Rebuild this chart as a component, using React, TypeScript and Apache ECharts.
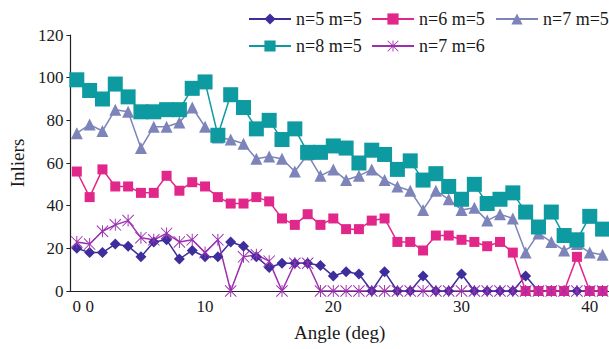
import React, { useEffect, useRef } from "react";
import * as echarts from "echarts";

const angleCategories = [
  "0", "0", "2", "3", "4", "5", "6", "7", "8", "9",
  "10", "11", "12", "13", "14", "15", "16", "17", "18", "19",
  "20", "21", "22", "23", "24", "25", "26", "27", "28", "29",
  "30", "31", "32", "33", "34", "35", "36", "37", "38", "39",
  "40", "41",
];
const shownLabelIndex = [0, 1, 10, 20, 30, 40];

const seriesNames = ["n=5 m=5", "n=6 m=5", "n=7 m=5", "n=8 m=5", "n=7 m=6"];

const n5m5 = [20, 18, 18, 22, 21, 16, 23, 24, 15, 19, 16, 16, 23, 21, 16, 11, 13, 13, 13, 12, 7, 9, 8, 0, 9, 0, 0, 7, 0, 0, 8, 0, 0, 0, 0, 7, 0, 0, 0, 0, 0, 0];
const n6m5 = [56, 44, 57, 49, 49, 46, 46, 54, 47, 51, 49, 44, 41, 41, 44, 42, 34, 31, 36, 31, 34, 29, 29, 33, 34, 23, 23, 19, 26, 26, 24, 23, 21, 23, 18, 0, 0, 0, 0, 16, 0, 0];
const n7m5 = [74, 78, 75, 85, 84, 67, 77, 77, 79, 86, 77, 72, 71, 69, 62, 63, 62, 56, 64, 54, 57, 52, 54, 57, 52, 49, 47, 38, 47, 43, 38, 39, 33, 36, 34, 18, 27, 23, 19, 22, 18, 17];
const n8m5 = [99, 94, 90, 97, 91, 84, 84, 85, 85, 95, 98, 73, 92, 86, 76, 80, 71, 76, 65, 65, 68, 67, 60, 66, 64, 57, 61, 52, 55, 49, 43, 50, 41, 43, 46, 37, 30, 37, 26, 24, 35, 29];
const n7m6 = [23, 22, 28, 31, 33, 25, 24, 27, 23, 24, 18, 24, 0, 16, 17, 14, 0, 13, 13, 0, 0, 0, 0, 0, 0, 0, 0, 0, 0, 0, 0, 0, 0, 0, 0, 0, 0, 0, 0, 0, 0, 0];

const FONT = "Liberation Serif";
const TEXT = "#1a1a1a";

const asteriskPath =
  "path://M9.2,0 L10.8,0 L10.8,20 L9.2,20 Z M0,1.1 L1.1,0 L20,18.9 L18.9,20 Z M18.9,0 L20,1.1 L1.1,20 L0,18.9 Z";

export default function App() {
  const ref = useRef<HTMLDivElement>(null);
  useEffect(() => {
    if (!ref.current) return;
    const chart = echarts.init(ref.current, undefined, { renderer: "svg" });
    const mk = (name: string, data: number[], color: string, symbol: string, size: number) => ({
      name,
      type: "line",
      data,
      symbol,
      symbolSize: size,
      showAllSymbol: true,
      lineStyle: { color, width: 1.5 },
      itemStyle: { color, borderWidth: 0 },
      emphasis: { disabled: true },
    });
    const legendPos = [
      { left: 248, top: 10 },
      { left: 371, top: 10 },
      { left: 495, top: 10 },
      { left: 248, top: 37 },
      { left: 371, top: 37 },
    ];
    const legends = seriesNames.map((nm, i) => ({
      ...legendPos[i],
      data: [nm],
      width: 200,
      itemWidth: 42,
      itemHeight: 14,
      padding: 0,
      selectedMode: false,
      textStyle: { fontSize: 18, fontFamily: FONT, color: TEXT },
    }));
    chart.setOption({
      animation: false,
      backgroundColor: "#ffffff",
      textStyle: { fontFamily: FONT },
      legend: legends,
      grid: { left: 66, top: 35, width: 546, bottom: 58, containLabel: false },
      xAxis: {
        type: "category",
        data: angleCategories,
        boundaryGap: true,
        name: "Angle (deg)",
        nameLocation: "middle",
        nameGap: 32,
        nameTextStyle: { fontSize: 19, fontFamily: FONT, color: TEXT },
        axisLine: { lineStyle: { color: "#222", width: 1.2 } },
        axisTick: {
          inside: true,
          length: 6,
          interval: (idx: number) => idx % 10 === 0,
          lineStyle: { color: "#222" },
        },
        axisLabel: {
          interval: (idx: number) => shownLabelIndex.includes(idx),
          fontSize: 17,
          fontFamily: FONT,
          color: TEXT,
          margin: 7,
        },
        splitLine: { show: false },
      },
      yAxis: {
        type: "value",
        min: 0,
        max: 120,
        interval: 20,
        name: "Inliers",
        nameLocation: "middle",
        nameGap: 33,
        nameTextStyle: { fontSize: 19, fontFamily: FONT, color: TEXT },
        axisLine: { show: true, lineStyle: { color: "#222", width: 1.2 } },
        axisTick: { show: true, inside: false, length: 4, lineStyle: { color: "#222" } },
        axisLabel: { fontSize: 17, fontFamily: FONT, color: TEXT, margin: 7 },
        splitLine: { show: false },
      },
      series: [
        mk(seriesNames[0], n5m5, "#3d2e9c", "diamond", 11),
        mk(seriesNames[1], n6m5, "#e2278b", "rect", 10),
        mk(seriesNames[2], n7m5, "#7d84b9", "triangle", 12),
        mk(seriesNames[3], n8m5, "#0d9aa0", "rect", 15),
        mk(seriesNames[4], n7m6, "#9c2fb0", asteriskPath, 12),
      ],
    });
    return () => chart.dispose();
  }, []);
  return (
    <div
      ref={ref}
      style={{ position: "fixed", left: 0, top: 0, width: 609, height: 349, background: "#fff" }}
    />
  );
}
